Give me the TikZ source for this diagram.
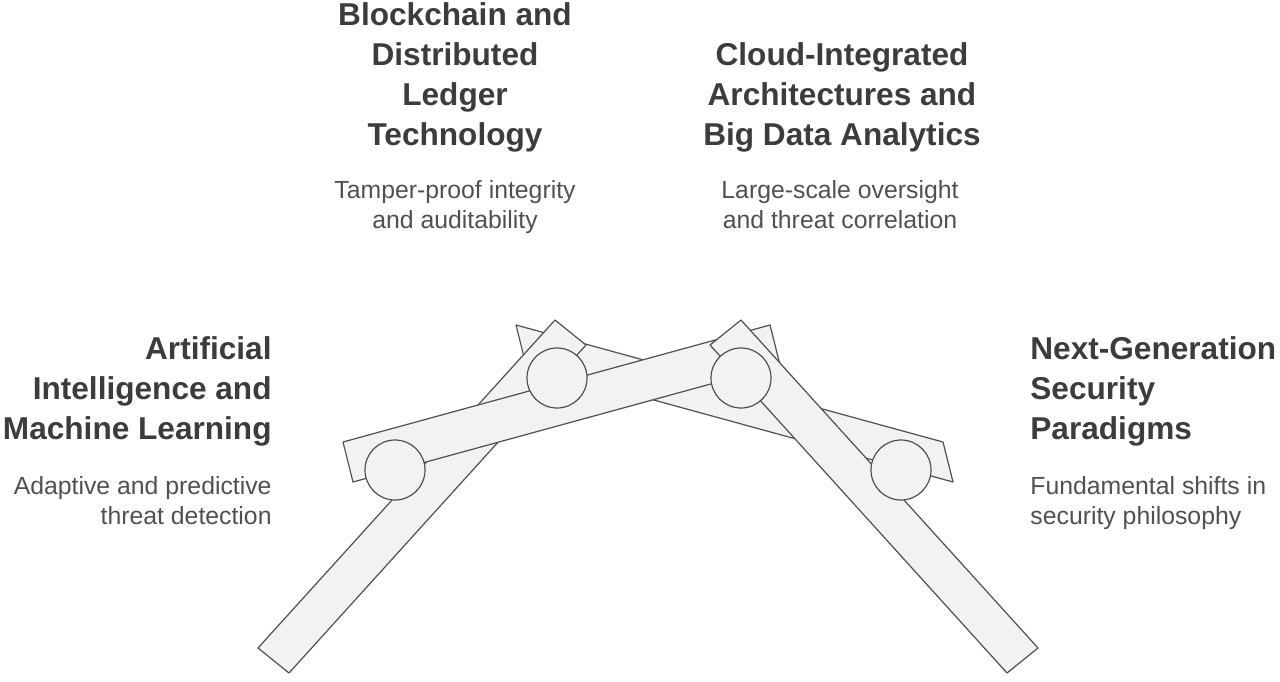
\documentclass[tikz,border=0pt]{standalone}
\usepackage{fontspec}
\setmainfont{Liberation Sans}
\definecolor{txt}{HTML}{3C3C3C}
\definecolor{barfill}{HTML}{F2F2F2}
\definecolor{barline}{HTML}{505050}
\tikzset{
  bar/.style={fill=barfill, draw=barline, line width=0.6pt, line join=round},
  joint/.style={circle, fill=barfill, draw=barline, line width=0.6pt, minimum size=30pt, inner sep=0pt},
  head/.style={font=\fontsize{15.8}{20}\selectfont\bfseries, text=txt, inner sep=0pt},
  sub/.style={font=\fontsize{12.4}{15}\selectfont, text=txt!90, inner sep=0pt}
}
\begin{document}
\begin{tikzpicture}[x=0.5pt, y=-0.5pt]
    \useasboundingbox (0,0) rectangle (1280,681);

    % Bars, back to front
    \draw[bar] (526,365) -- (516,325) -- (943,442) -- (953,482) -- cycle;
    \draw[bar] (258,648) -- (555,320) -- (586,345) -- (289,673) -- cycle;
    \draw[bar] (353,482) -- (343,442) -- (770,325) -- (780,365) -- cycle;
    \draw[bar] (1038,648) -- (741,320) -- (710,345) -- (1007,673) -- cycle;

    % Joints
    \node[joint] (j1) at (395,470) {};
    \node[joint] (j2) at (557,378) {};
    \node[joint] (j3) at (741,378) {};
    \node[joint] (j4) at (901,470) {};

    % Labels
    \node[head, anchor=north, align=center] (t1) at (455,2)
        {Blockchain and\\Distributed\\Ledger\\Technology};
    \node[sub, anchor=north, align=center] (s1) at (455,180)
        {Tamper-proof integrity\\and auditability};
    \node[head, anchor=north, align=center] (t2) at (842,42)
        {Cloud-Integrated\\Architectures and\\Big Data Analytics};
    \node[sub, anchor=north, align=center] (s2) at (840,180)
        {Large-scale oversight\\and threat correlation};
    \node[head, anchor=north east, align=right] (t3) at (272,336)
        {Artificial\\Intelligence and\\Machine Learning};
    \node[sub, anchor=north east, align=right] (s3) at (272,476)
        {Adaptive and predictive\\threat detection};
    \node[head, anchor=north west, align=left] (t4) at (1030,336)
        {Next-Generation\\Security\\Paradigms};
    \node[sub, anchor=north west, align=left] (s4) at (1030,476)
        {Fundamental shifts in\\security philosophy};
\end{tikzpicture}
\end{document}
